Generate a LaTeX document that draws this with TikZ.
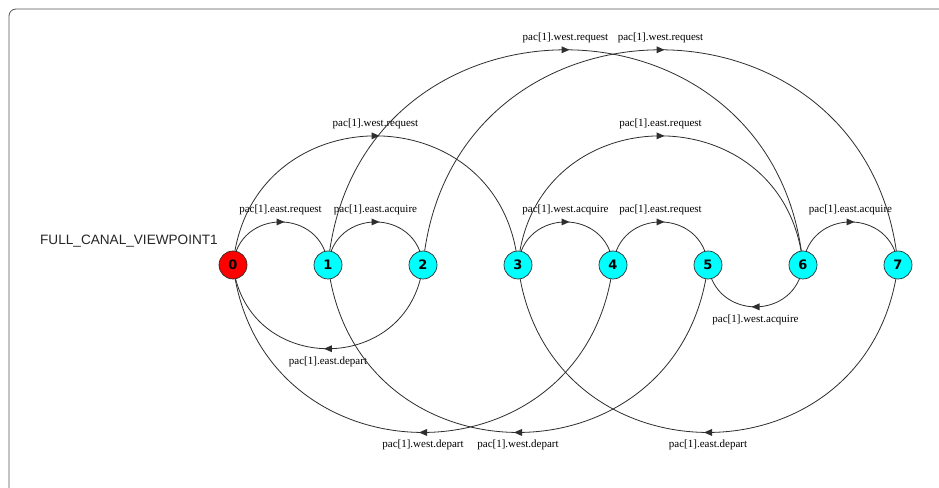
\documentclass[tikz,border=0pt]{standalone}
\usepackage{fontspec}
\setmainfont{Liberation Serif}
\newfontfamily\titlefont{Liberation Sans}
\newfontfamily\digitfont{DejaVu Sans}
\usetikzlibrary{decorations.markings,backgrounds}
\definecolor{nodecyan}{HTML}{00FFFF}
\definecolor{nodered}{HTML}{FF0000}
\definecolor{linegray}{HTML}{2E2E2E}
\definecolor{framegray}{HTML}{555555}
\begin{document}
\begin{tikzpicture}[x=1pt,y=1pt,
  state/.style={circle, draw=linegray, line width=0.7pt, minimum size=28pt, inner sep=0pt,
    font=\digitfont\bfseries\fontsize{13}{13}\selectfont},
  trans/.style={draw=linegray, line width=0.8pt, postaction={decorate},
    decoration={markings, mark=at position 0.5 with {\fill[linegray] (4pt,0pt) -- (-4pt,3.5pt) -- (-4pt,-3.5pt) -- cycle;}}},
  arcup/.style={trans, bend left=84.6, looseness=1.556},
  arcdown/.style={trans, bend left=83, looseness=1.518},
  labup/.style={midway, font=\fontsize{11}{11}\selectfont, inner sep=0pt, anchor=base, yshift=9.5pt},
  labdown/.style={midway, font=\fontsize{11}{11}\selectfont, inner sep=0pt, anchor=base, yshift=-15.5pt}]
\useasboundingbox (0,0) rectangle (939,487);
% states
\node[state, fill=nodered]  (n0) at (233,222) {0};
\node[state, fill=nodecyan] (n1) at (328,222) {1};
\node[state, fill=nodecyan] (n2) at (423,222) {2};
\node[state, fill=nodecyan] (n3) at (518,222) {3};
\node[state, fill=nodecyan] (n4) at (613,222) {4};
\node[state, fill=nodecyan] (n5) at (708,222) {5};
\node[state, fill=nodecyan] (n6) at (803,222) {6};
\node[state, fill=nodecyan] (n7) at (898,222) {7};
\node[anchor=base east, inner sep=0pt, text=black!85, font=\titlefont\fontsize{13.6}{14}\selectfont] (title) at (218,242) {FULL\_CANAL\_VIEWPOINT1};
\begin{scope}[on background layer]
\fill[white] (0,0) rectangle (939,487);
\draw[framegray, line width=0.8pt, rounded corners=7pt] (9,-10) -- (9,478) -- (950,478);
% upper arcs (left to right)
\draw[arcup] (n0.center) to node[labup]{pac[1].east.request} (n1.center);
\draw[arcup] (n1.center) to node[labup]{pac[1].east.acquire} (n2.center);
\draw[arcup] (n3.center) to node[labup]{pac[1].west.acquire} (n4.center);
\draw[arcup] (n4.center) to node[labup]{pac[1].east.request} (n5.center);
\draw[arcup] (n6.center) to node[labup]{pac[1].east.acquire} (n7.center);
\draw[arcup] (n0.center) to node[labup]{pac[1].west.request} (n3.center);
\draw[arcup] (n3.center) to node[labup]{pac[1].east.request} (n6.center);
\draw[arcup] (n1.center) to node[labup]{pac[1].west.request} (n6.center);
\draw[arcup] (n2.center) to node[labup]{pac[1].west.request} (n7.center);
% lower arcs (right to left)
\draw[arcdown] (n2.center) to node[labdown]{pac[1].east.depart} (n0.center);
\draw[arcdown] (n6.center) to node[labdown]{pac[1].west.acquire} (n5.center);
\draw[arcdown] (n4.center) to node[labdown]{pac[1].west.depart} (n0.center);
\draw[arcdown] (n5.center) to node[labdown]{pac[1].west.depart} (n1.center);
\draw[arcdown] (n7.center) to node[labdown]{pac[1].east.depart} (n3.center);
\end{scope}
\end{tikzpicture}
\end{document}
